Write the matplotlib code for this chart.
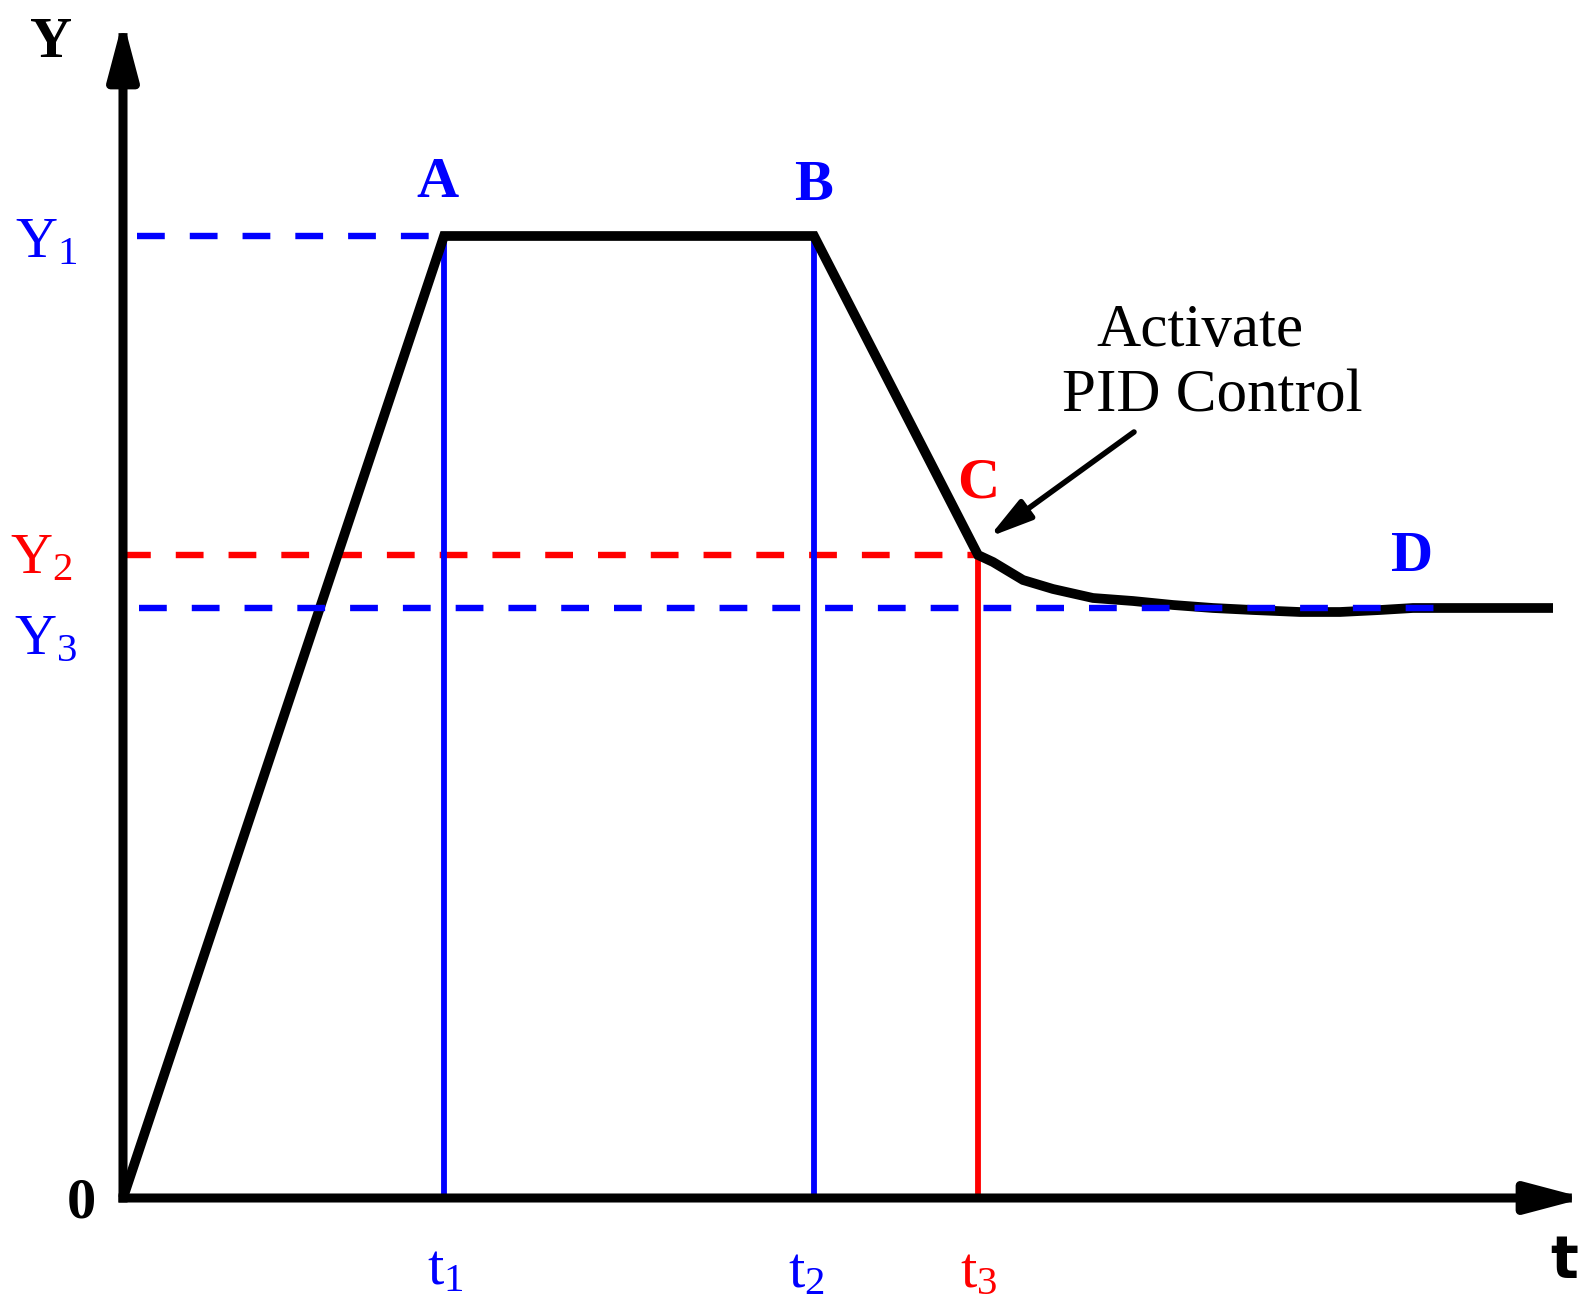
import matplotlib
matplotlib.use('Agg')
import matplotlib.pyplot as plt
from matplotlib.patches import FancyArrowPatch

plt.rcParams['mathtext.fontset'] = 'custom'
plt.rcParams['mathtext.rm'] = 'Liberation Serif'
plt.rcParams['mathtext.it'] = 'Liberation Serif'
plt.rcParams['lines.scale_dashes'] = False

# Key levels and times
Y1, Y2, Y3 = 9.62, 6.43, 5.90
t1, t2, t3 = 3.21, 6.91, 8.55

# Response curve: ramp up, hold, ramp down, then PID settling
curve_t = [0, t1, t2, t3, 8.70, 9.00, 9.30, 9.70, 10.10, 10.50, 10.90,
           11.30, 11.77, 12.17, 12.57, 12.90, 14.30]
curve_y = [0, Y1, Y1, Y2, 6.36, 6.18, 6.09, 6.00, 5.97, 5.93, 5.90,
           5.88, 5.86, 5.86, 5.88, 5.90, 5.90]

t_max, y_max = 14.62, 11.78
BLUE = '#0000ff'
RED = '#ff0000'

fig = plt.figure(figsize=(15.95, 13.15), dpi=100)
ax = fig.add_axes([0, 0, 1, 1])
ax.set_xlim(-1.23, 14.72)
ax.set_ylim(-1.17, 11.98)
ax.axis('off')

dash = (20, 18)

# Reference levels
ax.plot([0.14, t1], [Y1, Y1], color=BLUE, lw=4.6, dashes=dash, zorder=2)
ax.plot([0, t3], [Y2, Y2], color=RED, lw=4.6, dashes=dash, zorder=2)

# Vertical markers
ax.plot([t1, t1], [0, Y1], color=BLUE, lw=4.2, zorder=2)
ax.plot([t2, t2], [0, Y1], color=BLUE, lw=4.2, zorder=2)
ax.plot([t3, t3], [0, Y2], color=RED, lw=4.2, zorder=2)

# Main curve
ax.plot(curve_t, curve_y, color='black', lw=7, zorder=3,
        solid_joinstyle='miter', solid_capstyle='butt')

# Y3 setpoint on top of the curve
ax.plot([0.16, 13.14], [Y3, Y3], color=BLUE, lw=4.6, dashes=dash, zorder=4)

# Axes with arrows
for tip in [(t_max, 0), (0, y_max)]:
    arr = FancyArrowPatch((0, 0), tip, arrowstyle='-|>,head_length=1.7,head_width=0.45',
                          mutation_scale=20, lw=6.5, color='black',
                          shrinkA=0, shrinkB=0, zorder=5, capstyle='projecting')
    ax.add_patch(arr)

# Annotation arrow
ax.annotate('', xy=(8.66, 6.61), xytext=(10.11, 7.66),
            arrowprops=dict(arrowstyle='-|>,head_length=1.3,head_width=0.35',
                            mutation_scale=20, lw=4, color='black',
                            shrinkA=0, shrinkB=0))
serif = 'Liberation Serif'
ax.text(10.77, 8.67, 'Activate', fontsize=44, family=serif, ha='center', va='center')
ax.text(10.89, 8.01, 'PID Control', fontsize=44, family=serif, ha='center', va='center')

# Point labels
bold = dict(fontsize=42, family=serif, fontweight='bold', ha='center', va='center')
ax.text(t1 - 0.07, Y1 + 0.53, 'A', color=BLUE, **bold)
ax.text(t2, Y1 + 0.50, 'B', color=BLUE, **bold)
ax.text(t3, Y2 + 0.71, 'C', color=RED, **bold)
ax.text(12.89, Y3 + 0.51, 'D', color=BLUE, **bold)
ax.text(-0.72, 11.55, 'Y', color='black', **bold)
ax.text(-0.42, -0.05, '0', color='black', **bold)
ax.text(14.41, -0.63, 't', color='black', fontsize=42, family='DejaVu Sans',
        fontweight='bold', ha='center', va='center')

# Level / time labels
lab = dict(fontsize=42, ha='center', va='center')
ax.text(-0.77, Y1 - 0.05, r'$\mathrm{Y}_1$', color=BLUE, **lab)
ax.text(-0.82, Y2 - 0.02, r'$\mathrm{Y}_2$', color=RED, **lab)
ax.text(-0.77, Y3 - 0.30, r'$\mathrm{Y}_3$', color=BLUE, **lab)
ax.text(t1 + 0.01, -0.70, r'$\mathrm{t}_1$', color=BLUE, **lab)
ax.text(t2 - 0.08, -0.73, r'$\mathrm{t}_2$', color=BLUE, **lab)
ax.text(t3 + 0.01, -0.73, r'$\mathrm{t}_3$', color=RED, **lab)

fig.savefig('out.png', dpi=100)
